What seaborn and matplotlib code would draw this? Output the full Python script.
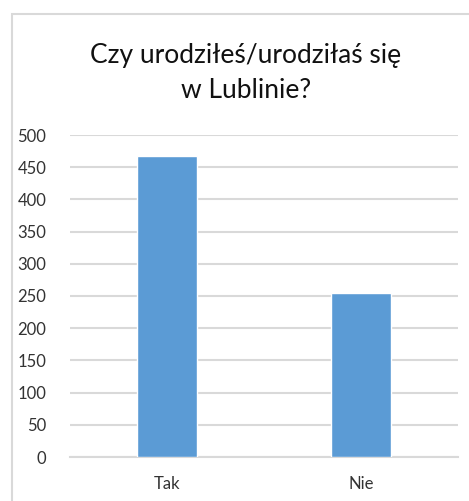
#Czy urodziłeś/urodziłaś się w Lublinie? - bar chart (Excel style)

import pandas as pd
import matplotlib
matplotlib.use("Agg")
import matplotlib.pyplot as plt
import seaborn as sns
from matplotlib.patches import Rectangle

#answers and number of people
answers = ["Tak", "Nie"]
counts = [467, 255]
y_ticks = [0, 50, 100, 150, 200, 250, 300, 350, 400, 450, 500]

df = pd.DataFrame({"Odpowiedz": answers, "Liczba": counts})

sns.set_style("white")
plt.rcParams["font.family"] = ["Lato", "DejaVu Sans"]

fig = plt.figure(figsize=(4.69, 5.01), dpi=100)

#light grey chart frame (cut off on the right and bottom like the screenshot)
fig.patches.append(Rectangle((12/469, -0.1), 1.0, (501-14)/501 + 0.1,
                             transform=fig.transFigure, fill=False,
                             edgecolor="#d9d9d9", linewidth=1.5))

ax = fig.add_axes([70/469, 44/501, 388/469, 322/501])

sns.barplot(data=df, x="Odpowiedz", y="Liczba", color="#5b9bd5",
            width=0.31, saturation=1, ax=ax, zorder=3)

ax.set_ylim(0, 500)
ax.set_xlim(-0.5, 1.5)
ax.set_yticks(y_ticks)
ax.yaxis.grid(True, color="#d9d9d9", linewidth=1.5, zorder=0)
ax.set_axisbelow(True)
for s in ["top", "right", "left"]:
    ax.spines[s].set_visible(False)
ax.spines["bottom"].set_color("#d9d9d9")
ax.spines["bottom"].set_linewidth(1.5)
ax.tick_params(axis="both", length=0, labelsize=12, colors="#333333")
ax.tick_params(axis="y", pad=17)
ax.tick_params(axis="x", pad=14)
ax.set_xlabel("")
ax.set_ylabel("")

#title over the whole chart
fig.text(246/469, 1 - 73/501, "Czy urodziłeś/urodziłaś się\nw Lublinie?",
         ha="center", va="center", fontsize=19, color="#111111",
         linespacing=1.55)

fig.savefig("out.png", dpi=100)
